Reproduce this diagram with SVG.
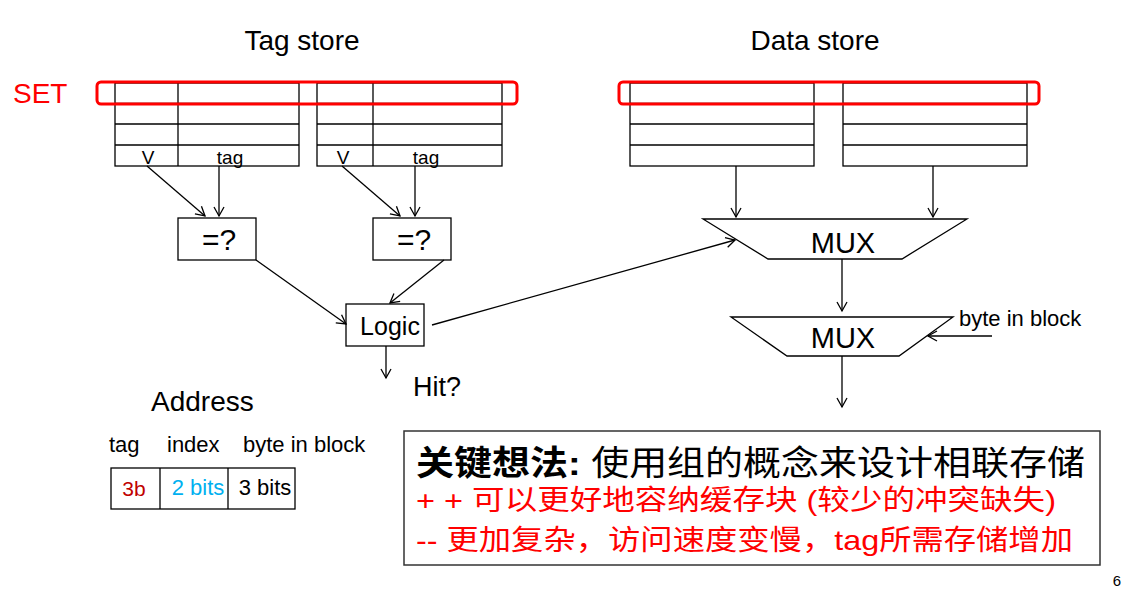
<svg xmlns="http://www.w3.org/2000/svg" width="1127" height="590" viewBox="0 0 1127 590">
<style>
.t{font-family:"Liberation Sans",Arial,sans-serif;fill:#000}
.cell{fill:#fff;stroke:#000;stroke-width:1.3}
.ln{stroke:#000;stroke-width:1.3;fill:none}
.set{fill:none;stroke:#ff0000;stroke-width:3}
.box{fill:#fff;stroke:#000;stroke-width:1.3}
.cjk{font-family:"Liberation Sans","Noto Sans CJK SC",sans-serif}
</style>
<defs>
<marker id="ah" markerWidth="12" markerHeight="12" refX="10" refY="6" orient="auto" markerUnits="userSpaceOnUse">
<path d="M1,1 L10,6 L1,11" fill="none" stroke="#000" stroke-width="1.3"/>
</marker>
</defs>
<rect width="1127" height="590" fill="#fff"/>

<text class="t" x="302" y="50" font-size="28" text-anchor="middle">Tag store</text>
<text class="t" x="815" y="50" font-size="28" text-anchor="middle">Data store</text>
<text x="13" y="103" font-size="28" fill="#ff0000" font-family="Liberation Sans,Arial,sans-serif">SET</text>

<g id="tagway0">
<rect class="cell" x="115" y="83" width="184" height="83"/>
<line class="ln" x1="115" y1="103.5" x2="299" y2="103.5"/>
<line class="ln" x1="115" y1="124" x2="299" y2="124"/>
<line class="ln" x1="115" y1="145" x2="299" y2="145"/>
<line class="ln" x1="178" y1="83" x2="178" y2="166"/>
<text class="t" x="148" y="164" font-size="19" text-anchor="middle">V</text>
<text class="t" x="230" y="164" font-size="19" text-anchor="middle">tag</text>
</g>
<g id="tagway1">
<rect class="cell" x="317" y="83" width="185" height="83"/>
<line class="ln" x1="317" y1="103.5" x2="502" y2="103.5"/>
<line class="ln" x1="317" y1="124" x2="502" y2="124"/>
<line class="ln" x1="317" y1="145" x2="502" y2="145"/>
<line class="ln" x1="373" y1="83" x2="373" y2="166"/>
<text class="t" x="343" y="164" font-size="19" text-anchor="middle">V</text>
<text class="t" x="426" y="164" font-size="19" text-anchor="middle">tag</text>
</g>
<g id="dataway0">
<rect class="cell" x="630" y="83" width="184" height="83"/>
<line class="ln" x1="630" y1="103.5" x2="814" y2="103.5"/>
<line class="ln" x1="630" y1="124" x2="814" y2="124"/>
<line class="ln" x1="630" y1="145" x2="814" y2="145"/>
</g>
<g id="dataway1">
<rect class="cell" x="843" y="83" width="184" height="83"/>
<line class="ln" x1="843" y1="103.5" x2="1027" y2="103.5"/>
<line class="ln" x1="843" y1="124" x2="1027" y2="124"/>
<line class="ln" x1="843" y1="145" x2="1027" y2="145"/>
</g>
<g id="setmarks">
<rect class="set" x="97" y="82" width="420" height="22" rx="4"/>
<rect class="set" x="619" y="82" width="420" height="22" rx="4"/>
</g>

<g id="cmp0">
<rect class="box" x="178" y="218" width="78" height="42"/>
<text class="t" x="219" y="250" font-size="30" text-anchor="middle">=?</text>
</g>
<g id="cmp1">
<rect class="box" x="373" y="218" width="78" height="42"/>
<text class="t" x="414" y="250" font-size="30" text-anchor="middle">=?</text>
</g>
<g id="logic">
<rect class="box" x="346" y="304" width="78" height="42"/>
<text class="t" x="390" y="335" font-size="25" text-anchor="middle">Logic</text>
</g>
<text class="t" x="413" y="396" font-size="27">Hit?</text>

<g id="mux1">
<polygon class="box" points="703,219 967,219 902,259 768,259" stroke-width="2.2"/>
<text class="t" x="843" y="253" font-size="29" text-anchor="middle">MUX</text>
</g>
<g id="mux2">
<polygon class="box" points="731,317 953,317 899,356 787,356" stroke-width="2.2"/>
<text class="t" x="843" y="348" font-size="29" text-anchor="middle">MUX</text>
</g>
<text class="t" x="959" y="326" font-size="22">byte in block</text>

<g id="connectors">
<line class="ln" x1="147" y1="166" x2="205" y2="216" marker-end="url(#ah)"/>
<line class="ln" x1="219" y1="166" x2="219" y2="216" marker-end="url(#ah)"/>
<line class="ln" x1="342" y1="166" x2="400" y2="216" marker-end="url(#ah)"/>
<line class="ln" x1="415" y1="166" x2="415" y2="216" marker-end="url(#ah)"/>
<line class="ln" x1="256" y1="260" x2="346" y2="324" marker-end="url(#ah)"/>
<line class="ln" x1="444" y1="260" x2="390" y2="303" marker-end="url(#ah)"/>
<line class="ln" x1="386" y1="346" x2="386" y2="378" marker-end="url(#ah)"/>
<line class="ln" x1="432" y1="325" x2="735" y2="240" marker-end="url(#ah)"/>
<line class="ln" x1="736" y1="166" x2="736" y2="217" marker-end="url(#ah)"/>
<line class="ln" x1="933" y1="166" x2="933" y2="217" marker-end="url(#ah)"/>
<line class="ln" x1="842" y1="259" x2="842" y2="311" marker-end="url(#ah)"/>
<line class="ln" x1="842" y1="356" x2="842" y2="407" marker-end="url(#ah)"/>
<line class="ln" x1="992" y1="336" x2="928" y2="336" marker-end="url(#ah)"/>
</g>

<g id="address">
<text class="t" x="151" y="411" font-size="28">Address</text>
<text class="t" x="109" y="452" font-size="22">tag</text>
<text class="t" x="167" y="452" font-size="22">index</text>
<text class="t" x="243" y="452" font-size="22">byte in block</text>
<rect class="cell" x="111" y="468" width="184" height="41"/>
<line class="ln" x1="160" y1="468" x2="160" y2="509"/>
<line class="ln" x1="228" y1="468" x2="228" y2="509"/>
<text x="134" y="496" font-size="21" fill="#c00000" text-anchor="middle" font-family="Liberation Sans,Arial,sans-serif">3b</text>
<text x="198" y="495" font-size="22" fill="#00b0f0" text-anchor="middle" font-family="Liberation Sans,Arial,sans-serif">2 bits</text>
<text class="t" x="265" y="495" font-size="22" text-anchor="middle">3 bits</text>
</g>

<g id="keyidea">
<rect x="404" y="431" width="696" height="134" fill="#fff" stroke="#333" stroke-width="1.5"/>
<text class="cjk" x="416" y="475" font-size="34" textLength="669" lengthAdjust="spacingAndGlyphs" fill="#000"><tspan font-weight="bold">关键想法:</tspan> 使用组的概念来设计相联存储</text>
<text class="cjk" x="416" y="510" font-size="28" fill="#ff0000" textLength="640" lengthAdjust="spacingAndGlyphs">+ + 可以更好地容纳缓存块 (较少的冲突缺失)</text>
<text class="cjk" x="416" y="550" font-size="28" fill="#ff0000" textLength="657" lengthAdjust="spacingAndGlyphs">-- 更加复杂，访问速度变慢，tag所需存储增加</text>
</g>
<text class="t" x="1117" y="586" font-size="15" text-anchor="middle">6</text>
</svg>
